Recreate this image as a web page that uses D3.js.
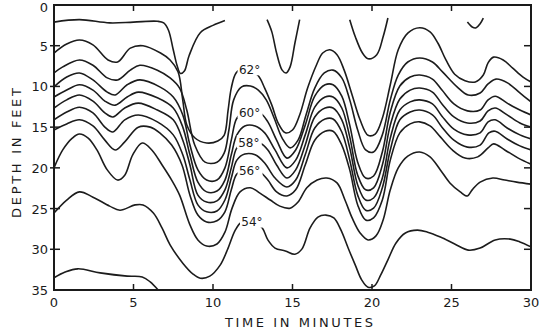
<!DOCTYPE html>
<html>
<head>
<meta charset="utf-8">
<script src="https://cdn.jsdelivr.net/npm/d3@7"></script>
<style>
	body { margin: 0; background: #fff; }
	text { font-family: "DejaVu Sans", sans-serif; fill: #1a1a1a; }
</style>
</head>
<body>
<svg id="chart" width="539" height="331"></svg>
<script>
// isotherms, each point is [time in minutes, depth in feet]
// the top isotherm only shows as pieces that dip down from the surface
var iso64a = [[0,2.1],[1.6,1.8],[3.5,2.2],[5,2.1],[6.5,2.0],[6.9,2.2],[7.2,3.1],[7.5,5.5],[7.75,7.5],[7.95,8.4],[8.2,8.1],[8.5,6.2],[9.2,3.4],[10,2.5],[10.75,1.9]]
var iso64b = [[13.4,1.8],[13.7,3.3],[14.0,5.9],[14.35,8.0],[14.6,8.35],[14.85,7.6],[15.15,4.7],[15.45,1.8]]
var iso64c = [[18.6,1.8],[18.95,3.9],[19.4,5.9],[19.75,6.6],[20.3,6.1],[20.7,3.9],[21.0,1.6]]
var iso64d = [[26.0,2.1],[26.3,2.7],[26.55,2.8],[26.8,2.3],[27.0,1.6]]

var iso62 = [[0,5.9],[0.8,4.8],[1.6,4.3],[2.45,4.9],[3.4,6.75],[4.0,7.0],[4.8,5.3],[5.6,5.0],[6.7,5.9],[7.3,6.75],[7.8,8.2],[8.1,11.7],[8.35,14.7],[8.85,16.3],[9.6,16.95],[10.3,16.7],[10.7,16.0],[10.95,12.9],[11.15,10.2],[11.45,8.35],[11.9,7.75],[12.35,8.0],[12.85,8.7],[13.25,10.2],[13.7,12.3],[14.1,14.5],[14.55,15.7],[15.0,15.35],[15.45,13.5],[15.95,10.2],[16.5,7.4],[16.9,5.9],[17.35,5.5],[17.8,6.1],[18.25,8.0],[18.75,11.05],[19.25,14.1],[19.75,16.0],[20.2,15.85],[20.65,13.9],[21.15,9.8],[21.65,5.5],[22.25,3.45],[23.0,2.8],[23.65,3.3],[24.15,4.7],[24.65,6.75],[25.2,8.5],[25.85,9.3],[26.5,9.45],[27.0,8.6],[27.3,7.1],[27.65,6.4],[28.25,6.75],[28.85,7.75],[29.5,8.85],[30,9.45]]

var iso61 = [[0,8.35],[0.55,7.6],[1.6,6.75],[2.45,7.4],[3.35,8.95],[4.0,9.2],[4.8,8.0],[5.4,7.4],[6.5,8.0],[7.3,8.95],[7.9,10.2],[8.35,12.9],[8.85,17.2],[9.5,19.3],[10.25,19.3],[10.7,18.2],[11.0,15.35],[11.3,11.65],[11.8,10.05],[12.35,9.95],[12.85,10.45],[13.35,11.65],[13.85,13.9],[14.35,16.35],[14.85,17.55],[15.35,16.6],[15.85,13.5],[16.4,10.2],[17.0,8.35],[17.55,8.0],[18.1,8.95],[18.6,11.65],[19.1,15.35],[19.6,17.8],[20.1,18.05],[20.65,15.95],[21.15,11.65],[21.65,8.6],[22.25,7.0],[23.0,6.5],[23.8,7.0],[24.45,8.25],[25.35,10.05],[26.05,11.05],[26.8,10.8],[27.3,9.7],[27.8,9.1],[28.55,9.6],[29.3,10.8],[30,11.9]]

var iso60 = [[0,10.05],[0.8,8.85],[1.6,8.35],[2.45,9.2],[3.35,10.7],[3.85,11.05],[4.6,9.8],[5.4,9.2],[6.65,10.05],[7.5,11.3],[8.1,13.5],[8.55,17.2],[9.05,20.25],[9.6,21.5],[10.25,21.5],[10.75,20.0],[11.15,16.6],[11.5,13.9],[12.0,13.15],[12.95,13.25],[13.45,14.35],[14.0,16.6],[14.65,18.8],[15.2,17.8],[15.8,14.75],[16.4,11.2],[17.05,9.8],[17.55,9.8],[18.1,11.2],[18.6,14.75],[19.1,19.3],[19.6,21.25],[20.1,21.0],[20.65,18.05],[21.15,13.15],[21.75,9.95],[22.4,8.85],[23.0,8.6],[23.8,9.1],[24.4,10.45],[25.15,12.15],[26.0,13.0],[26.8,12.9],[27.3,11.65],[27.75,11.2],[28.5,12.05],[29.3,12.9],[30,13.5]]

var iso59 = [[0,11.3],[0.8,10.45],[1.6,9.8],[2.45,10.45],[3.2,11.8],[3.85,12.3],[4.6,11.3],[5.3,10.7],[6.5,11.4],[7.5,12.65],[8.1,15.0],[8.55,18.4],[9.05,21.75],[9.6,22.95],[10.25,22.85],[10.75,21.5],[11.15,18.4],[11.5,15.95],[12.0,14.85],[12.65,14.85],[13.25,15.7],[13.9,17.8],[14.65,20.0],[15.2,19.05],[15.8,15.95],[16.4,12.55],[17.05,11.3],[17.55,11.3],[18.1,12.65],[18.6,16.2],[19.1,20.9],[19.6,22.7],[20.1,22.45],[20.65,19.65],[21.15,14.75],[21.75,11.55],[22.4,10.45],[23.0,10.2],[23.8,10.7],[24.4,12.15],[25.15,13.75],[26.0,14.5],[26.8,14.25],[27.3,13.0],[27.75,12.65],[28.5,13.5],[29.3,14.5],[30,15.0]]

var iso58 = [[0,12.65],[0.8,11.65],[1.6,11.05],[2.45,11.8],[3.2,13.25],[3.7,13.75],[4.45,12.65],[5.3,12.05],[6.5,12.9],[7.5,14.1],[8.1,16.6],[8.55,19.65],[9.05,23.35],[9.6,24.2],[10.25,24.05],[10.75,22.7],[11.15,20.0],[11.5,17.55],[12.0,16.8],[12.95,16.95],[13.45,17.8],[14.0,19.65],[14.65,21.25],[15.2,20.25],[15.8,17.2],[16.4,13.75],[17.05,12.65],[17.55,12.65],[18.1,14.1],[18.6,17.55],[19.1,22.1],[19.6,23.95],[20.1,23.7],[20.65,21.25],[21.15,16.35],[21.75,12.9],[22.4,11.9],[23.0,11.65],[23.8,12.15],[24.4,13.65],[25.15,15.25],[26.0,15.95],[26.8,15.7],[27.3,14.35],[27.75,14.1],[28.5,15.1],[29.3,15.95],[30,16.45]]

var iso57 = [[0,14.1],[0.8,13.15],[1.6,12.55],[2.45,13.25],[3.2,15.0],[3.7,15.6],[4.45,14.1],[5.3,13.5],[6.5,14.35],[7.5,15.95],[8.1,18.4],[8.55,21.5],[9.05,24.55],[9.6,25.4],[10.25,25.3],[10.75,23.95],[11.15,21.25],[11.5,19.05],[12.0,18.3],[12.65,18.4],[13.25,19.4],[13.9,21.25],[14.65,22.35],[15.2,21.5],[15.8,18.4],[16.4,15.1],[17.05,14.0],[17.55,14.0],[18.1,15.6],[18.6,19.05],[19.1,23.35],[19.6,25.2],[20.1,24.95],[20.65,22.45],[21.15,17.8],[21.75,14.1],[22.4,13.15],[23.0,12.9],[23.8,13.5],[24.4,15.0],[25.15,16.6],[26.0,17.45],[26.8,17.2],[27.35,15.7],[27.75,15.5],[28.5,16.45],[29.3,17.3],[30,17.8]]

var iso56 = [[0,15.35],[0.8,14.6],[1.6,14.1],[2.45,14.85],[3.2,16.6],[3.85,17.8],[4.45,16.8],[5.3,15.0],[6.05,15.0],[6.65,15.7],[7.4,17.2],[8.05,19.65],[8.55,23.35],[9.05,25.8],[9.6,26.65],[10.25,26.5],[10.75,25.4],[11.15,22.7],[11.5,20.75],[12.0,20.25],[12.95,20.5],[13.45,21.5],[14.0,22.95],[14.65,23.45],[15.2,22.7],[15.8,19.65],[16.4,16.6],[17.05,15.5],[17.55,15.5],[18.1,17.2],[18.6,20.25],[19.1,24.55],[19.6,26.4],[20.1,26.15],[20.65,23.95],[21.15,19.05],[21.75,15.7],[22.4,14.6],[23.0,14.35],[23.65,14.85],[24.3,16.2],[25.05,17.8],[25.85,18.8],[26.65,18.65],[27.3,17.55],[27.65,17.05],[28.35,17.8],[29.2,18.8],[30,19.55]]

var iso55 = [[0,20.0],[0.55,17.8],[1.15,16.35],[1.6,15.85],[2.15,16.35],[2.7,17.8],[3.35,20.25],[4.0,21.5],[4.45,20.9],[4.95,18.4],[5.55,16.95],[6.15,17.8],[6.8,19.65],[7.4,21.5],[7.9,23.35],[8.55,27.0],[9.05,28.85],[9.6,29.6],[10.25,29.35],[10.75,27.9],[11.2,24.95],[11.7,22.95],[12.35,22.45],[12.95,23.1],[13.6,23.95],[14.2,24.7],[14.85,24.95],[15.35,24.2],[15.9,22.45],[16.55,21.5],[17.15,21.25],[17.8,21.85],[18.3,23.95],[18.75,26.15],[19.25,28.0],[19.75,28.85],[20.25,28.35],[20.7,26.4],[21.15,22.7],[21.65,20.0],[22.25,18.55],[23.0,18.05],[23.65,18.65],[24.3,20.25],[24.9,21.85],[25.55,22.95],[26.0,23.45],[26.3,22.7],[26.8,21.75],[27.6,21.25],[28.35,21.5],[29.1,21.75],[30,22.0]]

var iso54 = [[0,25.55],[0.8,23.95],[1.6,22.95],[2.45,23.6],[3.5,24.7],[4.15,25.2],[5.1,24.55],[5.6,24.55],[6.25,25.55],[6.8,27.4],[7.3,29.45],[8.1,31.7],[8.75,33.05],[9.2,33.55],[9.8,33.3],[10.45,31.95],[10.95,29.85],[11.4,27.65],[11.8,26.65],[12.45,26.4],[13.1,27.4],[13.45,28.85],[13.9,29.85],[14.55,30.2],[15.15,30.6],[15.6,29.95],[16.1,27.4],[16.6,26.05],[17.1,25.8],[17.6,26.15],[18.05,27.65],[18.5,29.85],[18.95,31.95],[19.35,33.75],[19.75,34.65],[20.15,34.5],[20.55,33.15],[21.0,31.3],[21.5,29.25],[22.1,28.0],[22.85,27.65],[23.5,27.9],[24.3,28.5],[25.2,29.35],[26.05,30.1],[26.8,29.85],[27.75,28.85],[28.7,28.75],[29.3,29.1],[30,29.7]]

var iso52 = [[0,33.5],[0.7,32.8],[1.5,32.4],[2.9,32.9],[4.6,33.3],[5.55,33.4],[6.05,34.0],[6.55,35.0]]

var isotherms = [iso64a, iso64b, iso64c, iso64d, iso62, iso61, iso60, iso59, iso58, iso57, iso56, iso55, iso54, iso52]

// labelled isotherms and where their labels sit
var labelTemps = [62, 60, 58, 56, 54]
var labelTimes = [12.3, 12.3, 12.25, 12.3, 12.45]
var labelDepths = [7.9, 13.15, 16.85, 20.3, 26.6]

var xTicks = [0, 5, 10, 15, 20, 25, 30]
var yTicks = [0, 5, 10, 15, 20, 25, 30, 35]

let svg = d3.select('#chart')
let svgWidth = +svg.attr('width')
let svgHeight = +svg.attr('height')

let padding = {t: 5, r: 8, b: 41, l: 54}

var x = d3.scaleLinear()
	.domain([0, 30])
	.range([padding.l, svgWidth - padding.r])

var y = d3.scaleLinear()
	.domain([0, 35])
	.range([padding.t, svgHeight - padding.b])

svg.append('clipPath')
	.attr('id', 'plotClip')
	.append('rect')
	.attr('x', x(0))
	.attr('y', y(0))
	.attr('width', x(30) - x(0))
	.attr('height', y(35) - y(0))

var line = d3.line()
	.x(function(d) { return x(d[0]) })
	.y(function(d) { return y(d[1]) })
	.curve(d3.curveCatmullRom.alpha(0.5))

svg.append('g')
	.attr('clip-path', 'url(#plotClip)')
	.selectAll('path')
	.data(isotherms)
	.enter()
	.append('path')
	.attr('d', line)
	.attr('fill', 'none')
	.attr('stroke', '#1c1c1c')
	.attr('stroke-width', 1.6)
	.attr('stroke-linejoin', 'round')

// labels break the line they sit on
var labelG = svg.append('g')
labelTemps.forEach(function(temp, i) {
	var cx = x(labelTimes[i])
	var cy = y(labelDepths[i])
	labelG.append('rect')
		.attr('x', cx - 12)
		.attr('y', cy - 7)
		.attr('width', 25)
		.attr('height', 13)
		.attr('fill', '#fff')
	labelG.append('text')
		.attr('x', cx)
		.attr('y', cy + 4.5)
		.attr('text-anchor', 'middle')
		.style('font-size', '12px')
		.text(temp + '°')
})

// frame
svg.append('rect')
	.attr('x', x(0))
	.attr('y', y(0))
	.attr('width', x(30) - x(0))
	.attr('height', y(35) - y(0))
	.attr('fill', 'none')
	.attr('stroke', '#1a1a1a')
	.attr('stroke-width', 2)

var tickG = svg.append('g')
	.attr('stroke', '#1a1a1a')
	.attr('stroke-width', 1.5)

xTicks.slice(1, -1).forEach(function(t) {
	tickG.append('line').attr('x1', x(t)).attr('x2', x(t)).attr('y1', y(35)).attr('y2', y(35) - 6)
	tickG.append('line').attr('x1', x(t)).attr('x2', x(t)).attr('y1', y(0)).attr('y2', y(0) + 6)
})
yTicks.slice(1, -1).forEach(function(d) {
	tickG.append('line').attr('x1', x(0) - 4).attr('x2', x(0) + 6).attr('y1', y(d)).attr('y2', y(d))
	tickG.append('line').attr('x1', x(30)).attr('x2', x(30) - 7).attr('y1', y(d)).attr('y2', y(d))
})

svg.append('g')
	.selectAll('text')
	.data(xTicks)
	.enter()
	.append('text')
	.attr('x', function(d) { return x(d) })
	.attr('y', y(35) + 17)
	.attr('text-anchor', 'middle')
	.style('font-size', '13px')
	.text(function(d) { return d })

svg.append('g')
	.selectAll('text')
	.data(yTicks)
	.enter()
	.append('text')
	.attr('x', x(0) - 6)
	.attr('y', function(d) { return Math.max(y(d) + 5, 12) })
	.attr('text-anchor', 'end')
	.style('font-size', '13px')
	.text(function(d) { return d })

svg.append('text')
	.attr('x', 299)
	.attr('y', 327)
	.attr('text-anchor', 'middle')
	.attr('textLength', 148)
	.attr('lengthAdjust', 'spacing')
	.style('font-size', '13px')
	.text('TIME IN MINUTES')

svg.append('text')
	.attr('text-anchor', 'middle')
	.attr('textLength', 130)
	.attr('lengthAdjust', 'spacing')
	.style('font-size', '13px')
	.attr('transform', 'translate(21,153)rotate(-90)')
	.text('DEPTH IN FEET')
</script>
</body>
</html>
